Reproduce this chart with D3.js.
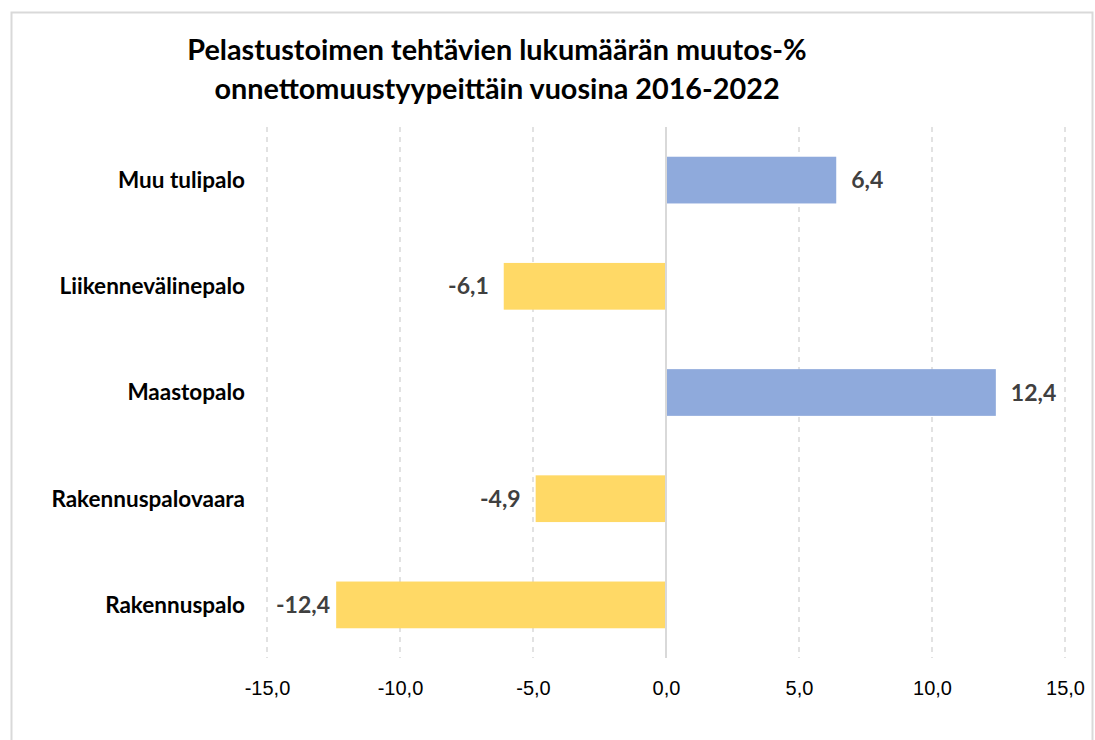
<!DOCTYPE html>
<html>
<head>
  <meta charset="UTF-8">
  <title>Pelastustoimen tehtävät</title>
  <script src="https://d3js.org/d3.v7.min.js"></script>
  <style>
    html, body { margin: 0; padding: 0; background: #fff; }
    svg { display: block; font-family: Lato, "Open Sans", sans-serif; }
    .title { font-size: 28.8px; font-weight: 700; fill: #000; }
    .cat { font-size: 22.5px; font-weight: 700; fill: #000; }
    .tick-label { font-size: 20px; fill: #000; }
    .val { font-size: 23px; font-weight: 700; fill: #404040; }
  </style>
</head>
<body>
  <svg id="chart" width="1095" height="740"></svg>

  <script>
    // data
    var categories = ["Muu tulipalo", "Liikennevälinepalo", "Maastopalo", "Rakennuspalovaara", "Rakennuspalo"];
    var values = [6.4, -6.1, 12.4, -4.9, -12.4];
    var tickValues = [-15, -10, -5, 0, 5, 10, 15];
    var titleLines = ["Pelastustoimen tehtävien lukumäärän muutos-%", "onnettomuustyypeittäin vuosina 2016-2022"];

    // Finnish style: comma decimal, plain hyphen for minus
    var fmt = function(v) { return d3.format(".1f")(v).replace(".", ",").replace("\u2212", "-"); };

    var svg = d3.select("#chart");

    // outer border
    svg.append("rect")
       .attr("x", 11.5).attr("y", 12.5)
       .attr("width", 1081).attr("height", 740)
       .attr("fill", "none")
       .attr("stroke", "#d9d9d9")
       .attr("stroke-width", 2);

    var x = d3.scaleLinear().domain([-15, 15]).range([267, 1065]);
    var y = d3.scaleBand()
              .domain(categories)
              .range([127, 658])
              .paddingInner(0.56)
              .paddingOuter(0.28);

    // title
    svg.append("text")
       .attr("class", "title")
       .attr("text-anchor", "middle")
       .selectAll("tspan")
       .data(titleLines)
       .enter()
       .append("tspan")
       .attr("x", 497)
       .attr("y", function(d, i) { return 60 + i * 39; })
       .text(function(d) { return d; });

    // gridlines
    svg.append("g")
       .selectAll("line")
       .data(tickValues.filter(function(d) { return d !== 0; }))
       .enter()
       .append("line")
       .attr("x1", function(d) { return x(d); })
       .attr("x2", function(d) { return x(d); })
       .attr("y1", 127)
       .attr("y2", 658)
       .attr("stroke", "#d9d9d9")
       .attr("stroke-width", 1.5)
       .attr("stroke-dasharray", "5,5");

    // bars
    svg.append("g")
       .selectAll("rect")
       .data(values)
       .enter()
       .append("rect")
       .attr("x", function(d) { return x(Math.min(0, d)); })
       .attr("y", function(d, i) { return y(categories[i]); })
       .attr("width", function(d) { return Math.abs(x(d) - x(0)); })
       .attr("height", y.bandwidth())
       .attr("fill", function(d) { return d >= 0 ? "#8faadc" : "#ffd966"; });

    // zero axis line
    svg.append("line")
       .attr("x1", x(0)).attr("x2", x(0))
       .attr("y1", 127).attr("y2", 658)
       .attr("stroke", "#d9d9d9")
       .attr("stroke-width", 2);

    // x axis labels
    var xAxis = d3.axisBottom(x)
                  .tickValues(tickValues)
                  .tickFormat(fmt)
                  .tickSize(0)
                  .tickPadding(0);
    var gx = svg.append("g")
                .attr("transform", "translate(0,681)")
                .call(xAxis);
    gx.select(".domain").remove();
    gx.selectAll("text")
      .attr("class", "tick-label")
      .attr("font-family", null)
      .attr("font-size", null)
      .attr("fill", null)
      .attr("dy", "0.71em");

    // category labels
    svg.append("g")
       .selectAll("text")
       .data(categories)
       .enter()
       .append("text")
       .attr("class", "cat")
       .attr("x", 245)
       .attr("y", function(d) { return y(d) + y.bandwidth() / 2; })
       .attr("dy", "0.35em")
       .attr("text-anchor", "end")
       .text(function(d) { return d; });

    // value labels
    var vals = svg.append("g")
       .selectAll("text")
       .data(values)
       .enter()
       .append("text")
       .attr("class", "val")
       .attr("y", function(d, i) { return y(categories[i]) + y.bandwidth() / 2; })
       .attr("dy", "0.35em")
       .attr("text-anchor", function(d) { return d >= 0 ? "start" : "end"; })
       .text(function(d) { return fmt(d); });

    vals.attr("x", function(d) {
      if (d >= 0) return x(d) + 15;
      var w = this.getComputedTextLength();
      return Math.max(x(d) - 15, 276 + w);
    });
  </script>
</body>
</html>
